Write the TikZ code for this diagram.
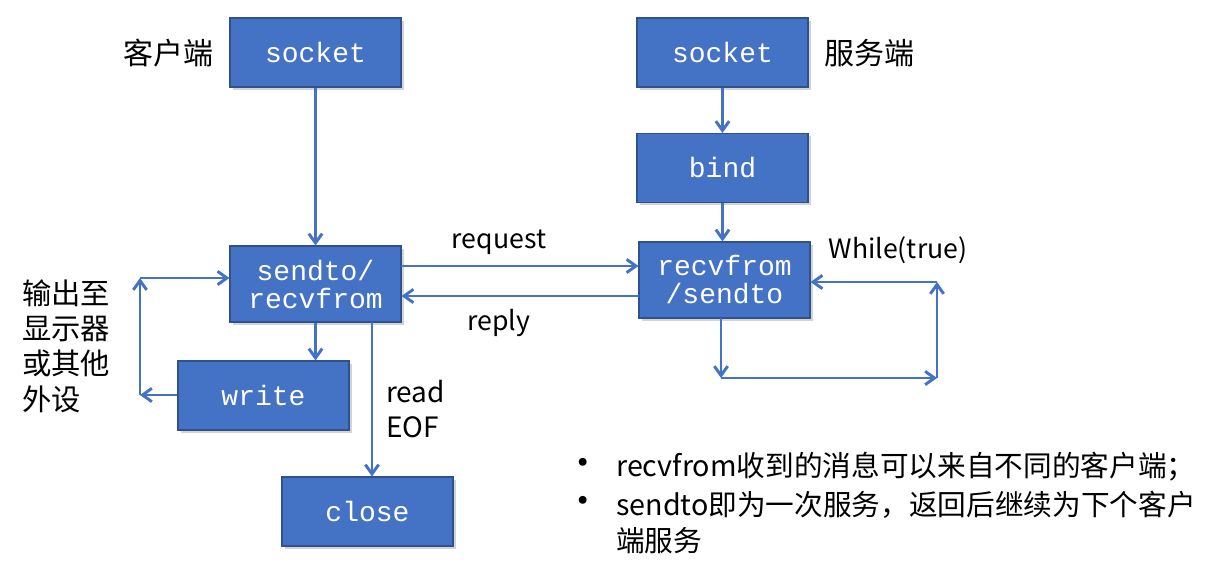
\documentclass[tikz,border=0pt]{standalone}
\usepackage{fontspec}
\newfontfamily\cjk{Noto Sans CJK SC}
\newfontfamily\mono{Liberation Mono}
\usetikzlibrary{arrows.meta,shadows}
\definecolor{boxfill}{HTML}{4472C4}
\definecolor{boxline}{HTML}{2F528F}
\definecolor{conn}{HTML}{4472C4}
\begin{document}
\begin{tikzpicture}[x=0.75pt,y=-0.75pt,
  blk/.style={draw=boxline,line width=0.8pt,fill=boxfill,text=white,
    minimum width=128.25pt,minimum height=51.75pt,inner sep=0pt,
    font=\mono\fontsize{21}{23}\selectfont,align=center,
    drop shadow={shadow xshift=2pt,shadow yshift=-2pt,opacity=0.35}},
  arr/.style={draw=conn,line width=2.2pt,-{Straight Barb[length=7pt,width=10pt]}},
  lbl/.style={font=\cjk\fontsize{20}{26}\selectfont,text=black,inner sep=0pt},
  big/.style={font=\cjk\fontsize{22.5}{26}\selectfont,text=black,inner sep=0pt},
  side/.style={font=\cjk\fontsize{21}{26.5}\selectfont,text=black,inner sep=0pt,align=left},
  cside/.style={font=\cjk\fontsize{22}{26.5}\selectfont,text=black,inner sep=0pt,align=left},
  bul/.style={font=\cjk\fontsize{28}{28}\selectfont,text=black,inner sep=0pt},
  note/.style={font=\cjk\fontsize{21.5}{27}\selectfont,text=black,inner sep=0pt,anchor=west}
]
\useasboundingbox (0,0) rectangle (1228,576);
\node[blk] (cs) at (315.5,52.5) {socket};
\node[blk] (ss) at (722.5,52.5) {socket};
\node[blk] (bind) at (722.5,168) {bind};
\node[blk,minimum height=57pt] (sr) at (315.5,284) {sendto/\\[-2pt]recvfrom};
\node[blk,minimum height=57pt] (rs) at (724.5,280) {recvfrom\\[-2pt]/sendto};
\node[blk] (write) at (263.5,395.5) {write};
\node[blk] (close) at (367.5,511.5) {close};

\node[big] (kh) at (168,53) {客户端};
\node[big] (fw) at (869,53) {服务端};
\node[lbl] (req) at (499,242) {request};
\node[lbl] (rep) at (499,323) {reply};
\node[lbl] (wt) at (898,250) {While(true)};
\node[side,anchor=north west] (eof) at (386,380) {read\\EOF};
\node[cside,anchor=north west] (out) at (22,279) {输出至\\显示器\\或其他\\外设};

\draw[arr] (cs) -- (sr);
\draw[arr] (ss) -- (bind);
\draw[arr] (bind) -- (bind |- rs.north);
\coordinate (rq1) at (401,266);
\coordinate (rp1) at (639,296);
\draw[arr] (rq1) -- (rq1 -| rs.west);
\draw[arr] (rp1) -- (rp1 -| sr.east);
\draw[arr] (sr.south -| write.north east) ++(-34,0) coordinate (w0) -- (w0 |- write.north);
\coordinate (e0) at (372,322);
\draw[arr] (e0) -- (e0 |- close.north);

\coordinate (l1) at (140,395);
\coordinate (l2) at (140,278);
\draw[arr] (write.west |- l1) -- (l1);
\draw[arr] (l1) -- (l2);
\draw[arr] (l2) -- (l2 -| sr.west);

\coordinate (r0) at (721,318);
\coordinate (r1) at (721,378);
\coordinate (r2) at (937,378);
\coordinate (r3) at (937,282);
\draw[arr] (r0) -- (r1);
\draw[arr] (r1) -- (r2);
\draw[arr] (r2) -- (r3);
\draw[arr] (r3) -- (r3 -| rs.east);

\node[bul] (b1) at (583,467) {•};
\node[bul] (b2) at (583,505) {•};
\node[note] (t1) at (616,467) {recvfrom收到的消息可以来自不同的客户端；};
\node[note] (t2) at (616,505) {sendto即为一次服务，返回后继续为下个客户};
\node[note] (t3) at (616,541) {端服务};
\end{tikzpicture}
\end{document}
